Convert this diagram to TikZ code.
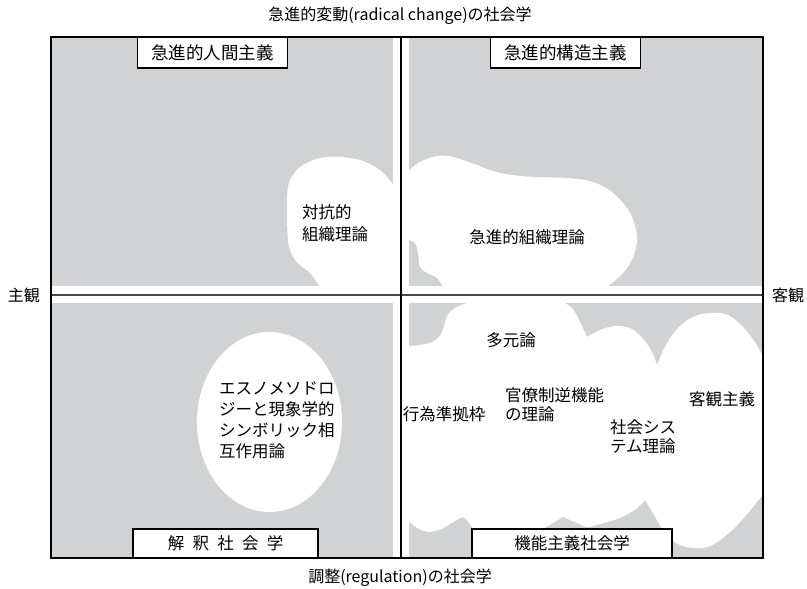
\documentclass[tikz,border=0pt]{standalone}
\usepackage{fontspec}
\setmainfont{Noto Sans CJK JP}
\definecolor{qgray}{RGB}{209,210,212}
\definecolor{hline}{RGB}{72,72,72}
\begin{document}
\begin{tikzpicture}[x=1pt,y=-1pt,
  lbl/.style={inner sep=0pt, font=\fontsize{16.5}{21}\selectfont},
  lblL/.style={lbl, align=left},
  topbox/.style={draw=black, line width=1.1pt, fill=white, inner sep=0pt,
    minimum width=150pt, minimum height=31pt, font=\fontsize{17.5}{21}\selectfont},
  botbox/.style={draw=black, line width=1.1pt, fill=white, inner sep=0pt,
    minimum height=29pt, font=\fontsize{16.5}{21}\selectfont},
]
\useasboundingbox (0,0) rectangle (807,589);
% quadrants
\fill[qgray] (51,37) rectangle (393,286);
\fill[qgray] (409,37) rectangle (763,286);
\fill[qgray] (51,303) rectangle (393,558);
\fill[qgray] (409,303) rectangle (763,558);
% upper-left blob
\fill[white] plot[smooth,tension=0.6] coordinates {(320,287) (310,273) (300,265) (292,255) (288,240) (287,207) (288,187) (293,175) (303,165) (320,158) (340,157) (360,160) (377,168) (387,177) (394,186)}
  -- (394,287) -- cycle;
% upper-right blob
\fill[white] plot[smooth,tension=0.6] coordinates {(408,171) (420,162) (437,156) (453,157) (477,165) (500,173) (533,177) (567,178) (593,182) (613,193) (630,213) (637,237) (633,257) (623,273) (607,287)}
  -- (443,287)
  -- plot[smooth,tension=0.6] coordinates {(443,287) (437,278) (427,273) (420,267) (418,253) (415,243) (408,240)}
  -- cycle;
% ellipse lower-left
\fill[white] (269.5,422) ellipse [x radius=72.5pt, y radius=90pt];
% lower-right blob
\fill[white] plot[smooth,tension=0.6] coordinates {(407,346) (420,345) (432,342) (440,336) (444,326) (447,316) (455,308) (467,303) (480,300)}
  -- (560,300)
  -- plot[smooth,tension=0.6] coordinates {(560,300) (572,308) (579,320) (587,337)}
  -- plot[smooth,tension=0.6] coordinates {(587,337) (600,330) (616,326) (632,329) (644,340) (652,352) (657,365)}
  -- plot[smooth,tension=0.6] coordinates {(657,365) (666,345) (678,328) (693,317) (710,313) (728,315) (744,328) (756,344) (764,358)}
  -- (764,493)
  -- plot[smooth,tension=0.6] coordinates {(764,493) (748,513) (730,532) (710,546) (693,548) (676,543) (663,530) (653,513) (645,500)}
  -- plot[smooth,tension=0.6] coordinates {(645,500) (636,509) (620,518) (600,524) (587,527) (577,523) (563,517)}
  -- plot[smooth,tension=0.6] coordinates {(563,517) (553,523) (540,530) (525,535)}
  -- (480,535)
  -- plot[smooth,tension=0.6] coordinates {(475,532) (470,524) (466,519) (462,517)}
  -- plot[smooth,tension=0.6] coordinates {(462,517) (455,521) (443,528) (430,532) (417,528) (407,519)}
  -- cycle;
% axes
\draw[hline, line width=2.4pt] (51,295) -- (763,295);
\draw[black, line width=1.1pt] (401,37) -- (401,558);
\draw[black, line width=1.1pt] (51,37) rectangle (763,558);
% boxes
\node[topbox] (b1) at (212.5,52.5) {急進的人間主義};
\node[topbox] (b2) at (565.5,52.5) {急進的構造主義};
\node[botbox, minimum width=185pt] (b3) at (225.5,543.5) {解\hspace{0.5em}釈\hspace{0.5em}社\hspace{0.5em}会\hspace{0.5em}学};
\node[botbox, minimum width=200pt] (b4) at (572,543.5) {機能主義社会学};
% axis labels
\node[lbl, font=\fontsize{16}{20}\selectfont] (top) at (400,16) {急進的変動(radical change)の社会学};
\node[lbl, font=\fontsize{16}{20}\selectfont] (bot) at (400,578) {調整(regulation)の社会学};
\node[lbl, font=\fontsize{16}{20}\selectfont] (subj) at (24,295) {主観};
\node[lbl, font=\fontsize{16}{20}\selectfont] (obj) at (788,295) {客観};
% region labels
\node[lblL, anchor=west, font=\fontsize{16.5}{22}\selectfont] (t1) at (302,223) {対抗的\\組織理論};
\node[lbl] (t2) at (527,237) {急進的組織理論};
\node[lblL, anchor=west] (t3) at (219,420.5) {エスノメソドロ\\ジーと現象学的\\シンボリック相\\互作用論};
\node[lbl] (t4) at (511,340) {多元論};
\node[lblL, anchor=west, font=\fontsize{16.5}{19.5}\selectfont] (t5) at (505,404.5) {官僚制逆機能\\の理論};
\node[lbl] (t6) at (444,414) {行為準拠枠};
\node[lblL, anchor=west, font=\fontsize{16.5}{19.5}\selectfont] (t7) at (610,436.5) {社会シス\\テム理論};
\node[lbl] (t8) at (722,399) {客観主義};
\end{tikzpicture}
\end{document}
